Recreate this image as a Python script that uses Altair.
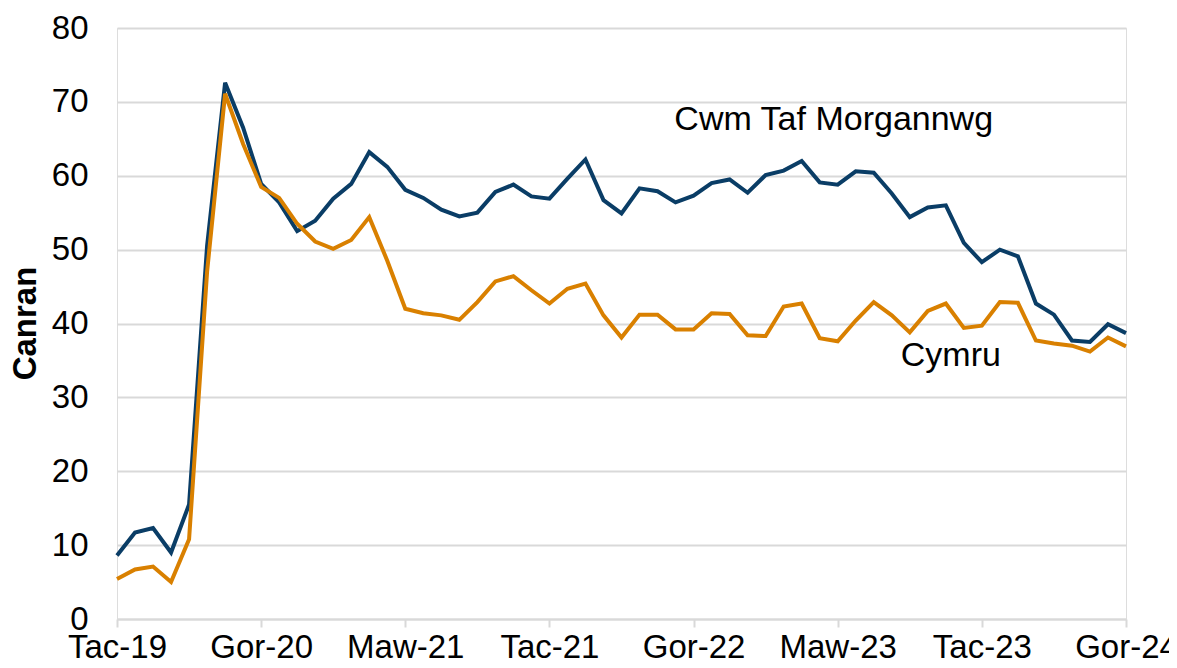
import altair as alt
import pandas as pd

# Categories: monthly periods Nov 2019 .. Jul 2024 (Welsh month abbreviations)
welsh_months = ["Ion", "Chwe", "Maw", "Ebr", "Mai", "Meh", "Gor", "Aws", "Med", "Hyd", "Tac", "Rha"]
months = []
y, m = 2019, 11
while (y, m) <= (2024, 7):
    months.append(f"{welsh_months[m - 1]}-{str(y)[2:]}")
    m += 1
    if m > 12:
        m, y = 1, y + 1

tick_labels = ["Tac-19", "Gor-20", "Maw-21", "Tac-21", "Gor-22", "Maw-23", "Tac-23", "Gor-24"]

cwm_taf = [8.6, 11.7, 12.3, 9.0, 15.5, 50.5, 72.6, 66.5, 58.9, 56.4, 52.5, 53.9, 56.9, 58.9,
           63.2, 61.2, 58.1, 57.0, 55.4, 54.5, 55.0, 57.8, 58.8, 57.2, 56.9, 59.6, 62.2, 56.7,
           54.9, 58.3, 57.9, 56.4, 57.3, 59.0, 59.5, 57.7, 60.1, 60.7, 62.0, 59.1, 58.8, 60.6,
           60.4, 57.6, 54.4, 55.7, 56.0, 50.9, 48.3, 50.0, 49.1, 42.7, 41.2, 37.7, 37.5, 39.9, 38.7]
cymru = [5.4, 6.7, 7.1, 5.0, 10.8, 47.0, 71.1, 64.3, 58.5, 57.0, 53.5, 51.1, 50.1, 51.3,
         54.4, 48.5, 42.0, 41.4, 41.1, 40.5, 42.9, 45.7, 46.4, 44.5, 42.7, 44.7, 45.4, 41.1,
         38.1, 41.2, 41.2, 39.2, 39.2, 41.4, 41.3, 38.4, 38.3, 42.3, 42.7, 38.0, 37.6, 40.4,
         42.9, 41.1, 38.8, 41.7, 42.7, 39.4, 39.7, 42.9, 42.8, 37.7, 37.3, 37.0, 36.2, 38.1, 36.9]

series_names = ["Cwm Taf Morgannwg", "Cymru"]
series_colors = ["#0a3d66", "#d98000"]

annot_text = ["Cwm Taf Morgannwg", "Cymru"]
annot_month = ["Maw-23", "Med-23"]
annot_value = [67.6, 35.6]
annot_dx = [-4, 5]

FONT = "Liberation Sans"
FS = 33

rows = []
for name, vals in zip(series_names, [cwm_taf, cymru]):
    for mo, v in zip(months, vals):
        rows.append({"month": mo, "value": v, "series": name})
df = pd.DataFrame(rows)

x_scale = alt.Scale(type="point", domain=months, padding=0)
y_scale = alt.Scale(domain=[0, 80], nice=False)

lines = alt.Chart(df).mark_line(strokeWidth=4, strokeJoin="miter").encode(
    x=alt.X("month:O", scale=x_scale, sort=None,
            axis=alt.Axis(values=tick_labels, labelAngle=0, title=None, grid=False,
                          domainColor="#d9d9d9", domainWidth=2, tickColor="#d9d9d9",
                          tickWidth=2, tickSize=8, labelFontSize=FS, labelFont=FONT,
                          labelColor="#000000", labelPadding=4, labelFlush=False)),
    y=alt.Y("value:Q", scale=y_scale,
            axis=alt.Axis(values=list(range(0, 81, 10)), title="Canran", grid=True,
                          gridColor="#d9d9d9", gridWidth=2, domain=False, ticks=False,
                          tickSize=0, labelFontSize=FS, labelFont=FONT, labelColor="#000000",
                          labelPadding=29, titleFont=FONT, titleFontSize=FS,
                          titleFontWeight="bold", titleColor="#000000", titleAngle=270,
                          titleX=-92, titleY=295, titleAlign="center", titleBaseline="middle")),
    color=alt.Color("series:N", scale=alt.Scale(domain=series_names, range=series_colors),
                    legend=None),
    order=alt.Order("series:N"),
)

text_layers = []
for lab, mo, val, dx in zip(annot_text, annot_month, annot_value, annot_dx):
    tdf = pd.DataFrame({"label": [lab], "month": [mo], "value": [val]})
    text_layers.append(
        alt.Chart(tdf).mark_text(font=FONT, fontSize=34, color="#000000", dx=dx,
                                 align="center", baseline="middle").encode(
            x=alt.X("month:O", scale=x_scale, sort=None),
            y=alt.Y("value:Q", scale=y_scale),
            text="label:N",
        )
    )

chart = alt.layer(lines, *text_layers).properties(
    width=1009, height=591,
    autosize=alt.AutoSizeParams(type="none"),
    padding={"left": 109, "top": 20, "right": 43, "bottom": 41},
).configure_view(stroke=None).configure(background="#ffffff")

chart.save("out.html", embed_options={"renderer": "svg", "actions": False})
